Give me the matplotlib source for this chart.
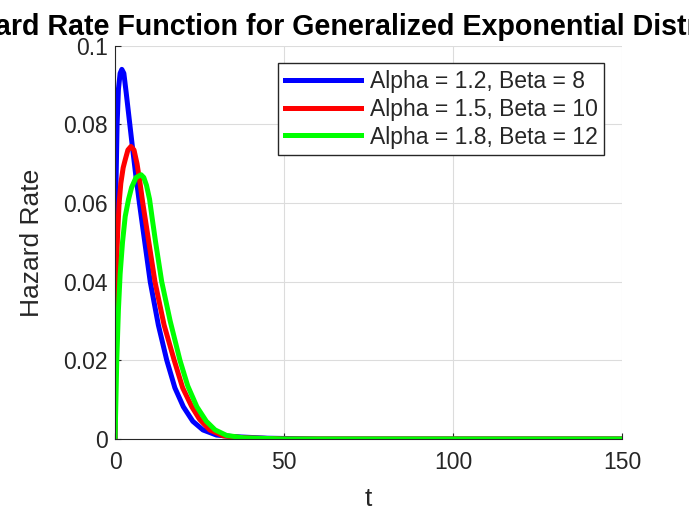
import matplotlib
matplotlib.use("Agg")
import matplotlib.pyplot as plt

plt.rcParams['font.family'] = ['Liberation Sans', 'DejaVu Sans']

# values
t_blue = [0, 0.1, 0.3, 0.6, 1.0, 1.5, 2.0, 2.6, 3.3, 4.1, 4.9, 6.0, 7.2, 8.8,
          10.4, 12.8, 15.3, 17.7, 20.2, 23, 26, 30, 35, 45, 60, 150]
h_blue = [0, 0.045, 0.066, 0.080, 0.089, 0.093, 0.094, 0.093, 0.088, 0.082,
          0.076, 0.068, 0.060, 0.050, 0.040, 0.029, 0.020, 0.013, 0.0082,
          0.0045, 0.0023, 0.0010, 0.0006, 0.0002, 0, 0]

t_red = [0, 0.2, 0.7, 1.2, 1.7, 2.4, 3.0, 3.8, 4.7, 5.6, 6.5, 7.4, 8.2, 10,
         11.8, 14.5, 17.5, 20, 22.7, 25, 28, 32, 38, 50, 150]
h_red = [0, 0.035, 0.051, 0.060, 0.065, 0.069, 0.071, 0.0735, 0.0744, 0.0735,
         0.070, 0.065, 0.060, 0.050, 0.040, 0.029, 0.020, 0.013, 0.0082,
         0.0050, 0.0023, 0.0008, 0.0003, 0, 0]

t_green = [0, 0.5, 1.0, 1.5, 2.2, 3.0, 4.0, 4.9, 6.2, 7.7, 8.5, 9.3, 10.2, 11.0,
           12.0, 13.8, 16.3, 19.2, 21.5, 24.2, 27, 29.6, 33, 38, 50, 150]
h_green = [0, 0.020, 0.033, 0.042, 0.050, 0.0566, 0.061, 0.064, 0.0665, 0.0672,
           0.0665, 0.0645, 0.061, 0.056, 0.050, 0.040, 0.030, 0.020, 0.0135,
           0.0082, 0.0045, 0.0023, 0.0009, 0.0003, 0, 0]

labels = ['Alpha = 1.2, Beta = 8', 'Alpha = 1.5, Beta = 10', 'Alpha = 1.8, Beta = 12']
x_ticks = [0, 50, 100, 150]
y_ticks = [0, 0.02, 0.04, 0.06, 0.08, 0.1]
y_ticklabels = ['0', '0.02', '0.04', '0.06', '0.08', '0.1']

fig = plt.figure(figsize=(6.89, 5.12), dpi=100)
ax = fig.add_axes([0.167, 0.1426, 0.736, 0.768])

ax.plot(t_blue, h_blue, color='#0000ff', lw=3.6, label=labels[0])
ax.plot(t_red, h_red, color='#ff0000', lw=3.6, label=labels[1])
ax.plot(t_green, h_green, color='#00ff00', lw=3.6, label=labels[2])

ax.set_xlim(0, 150)
ax.set_ylim(0, 0.1)
ax.set_xticks(x_ticks)
ax.set_yticks(y_ticks)
ax.set_yticklabels(y_ticklabels)
ax.tick_params(direction='in', length=4, labelsize=16.5, colors='#262626')
ax.tick_params(axis='x', pad=9)
ax.tick_params(axis='y', pad=5)
ax.grid(True, color='#dcdcdc', lw=0.8)
ax.set_axisbelow(True)
for s in ['top', 'right']:
    ax.spines[s].set_visible(False)
for s in ['left', 'bottom']:
    ax.spines[s].set_color('#262626')
    ax.spines[s].set_linewidth(0.8)

ax.set_xlabel('t', fontsize=19, color='#262626', labelpad=9)
ax.set_ylabel('Hazard Rate', fontsize=19, color='#262626', labelpad=14)
# title is wider than the figure and gets cut on both sides, as in the original
ax.set_title('Hazard Rate Function for Generalized Exponential Distribution',
             fontsize=20.6, fontweight='bold', pad=8)

leg = ax.legend(loc='upper right', bbox_to_anchor=(0.965, 0.955), fontsize=16.5,
                handlelength=3.3, frameon=True, fancybox=False, framealpha=1,
                edgecolor='#262626', borderpad=0.3, labelspacing=0.2,
                handletextpad=0.4, borderaxespad=0)
leg.get_frame().set_linewidth(1.0)
for txt in leg.get_texts():
    txt.set_color('#262626')

fig.savefig('out.png', dpi=100)
